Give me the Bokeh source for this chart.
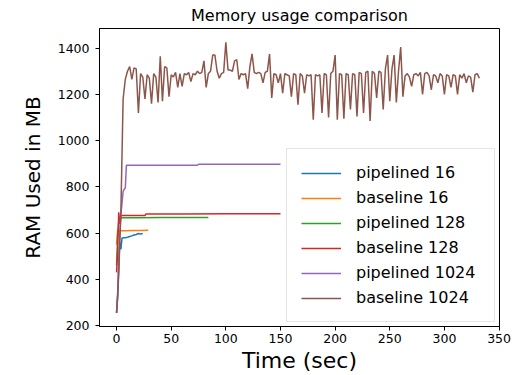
from bokeh.plotting import figure
from bokeh.models import Range1d, FixedTicker, Legend, LegendItem
from bokeh.embed import file_html
from bokeh.resources import INLINE

# ---- data ----
p16_t = [0, 1, 2, 3, 4, 5, 6, 8, 10, 12, 14, 16, 18, 20, 22, 24]
p16_v = [255, 320, 470, 560, 530, 578, 580, 580, 582, 585, 588, 592, 594, 598, 596, 598]

b16_t = [0, 1, 2, 4, 8, 15, 22, 29]
b16_v = [550, 615, 608, 610, 610, 611, 611, 612]

p128_t = [0, 1, 2, 3, 4, 5, 20, 40, 60, 84]
p128_v = [460, 590, 650, 645, 664, 666, 666, 667, 667, 667]

b128_t = [0, 1, 2, 3, 4, 5, 26, 27, 60, 100, 150]
b128_v = [430, 520, 690, 640, 674, 676, 676, 683, 683, 684, 684]

p1024_t = [0, 1, 2, 3, 4, 5, 6, 7, 8, 9, 30, 60, 74, 75, 100, 150]
p1024_v = [255, 330, 480, 600, 680, 730, 780, 790, 795, 893, 893, 894, 894, 898, 898, 898]

b1024_v = [
    255, 420, 700, 1180, 1265, 1300, 1320, 1265, 1315, 1310,
    1120, 1290, 1275, 1180, 1285, 1270, 1160, 1290, 1275, 1165,
    1365, 1170, 1320, 1315, 1190, 1285, 1275, 1295, 1230, 1290,
    1235, 1290, 1285, 1295, 1255, 1290, 1285, 1300, 1290, 1295,
    1345, 1230, 1290, 1300, 1370, 1370, 1300, 1270, 1290, 1295,
    1425, 1305, 1305, 1300, 1345, 1350, 1265, 1290, 1285, 1290,
    1225, 1320, 1375, 1295, 1290, 1295, 1290, 1250, 1295, 1300,
    1375, 1185, 1290, 1285, 1250, 1290, 1205, 1290, 1285, 1280,
    1190, 1290, 1285, 1155, 1290, 1280, 1205, 1285, 1280, 1285,
    1090, 1285, 1280, 1285, 1120, 1290, 1285, 1100, 1290, 1300,
    1370, 1090, 1290, 1285, 1095, 1290, 1285, 1135, 1290, 1285,
    1105, 1295, 1290, 1120, 1295, 1300, 1085, 1300, 1290, 1185,
    1300, 1295, 1135, 1310, 1370, 1170, 1310, 1370, 1165, 1300,
    1405, 1190, 1280, 1290, 1275, 1235, 1285, 1290, 1280, 1295,
    1200, 1290, 1295, 1280, 1220, 1285, 1280, 1250, 1290, 1280,
    1200, 1285, 1280, 1230, 1285, 1280, 1200, 1285, 1270, 1290,
    1250, 1280, 1275, 1210, 1285, 1290, 1270,
]
b1024_t = list(range(0, 2 * len(b1024_v), 2))

x_ticks = [0, 50, 100, 150, 200, 250, 300, 350]
y_ticks = [200, 400, 600, 800, 1000, 1200, 1400]

series = [
    ("pipelined 16", p16_t, p16_v, "#1f77b4"),
    ("baseline 16", b16_t, b16_v, "#ff7f0e"),
    ("pipelined 128", p128_t, p128_v, "#2ca02c"),
    ("baseline 128", b128_t, b128_v, "#d62728"),
    ("pipelined 1024", p1024_t, p1024_v, "#9467bd"),
    ("baseline 1024", b1024_t, b1024_v, "#8c564b"),
]

FONT = "DejaVu Sans"

p = figure(width=525, height=375, output_backend="svg", toolbar_location=None,
           x_range=Range1d(-15.6, 350.4), y_range=Range1d(196, 1485),
           min_border_left=99, min_border_right=26, min_border_top=25,
           min_border_bottom=49, title="Memory usage comparison")

p.title.text_font = FONT
p.title.text_font_size = "16px"
p.title.text_font_style = "normal"
p.title.align = "center"
p.title.standoff = 7
p.title.text_color = "black"

p.xgrid.visible = False
p.ygrid.visible = False
p.outline_line_color = "black"
p.outline_line_width = 1
p.background_fill_color = "white"
p.border_fill_color = "white"

for ax, ticks in ((p.xaxis[0], x_ticks), (p.yaxis[0], y_ticks)):
    ax.ticker = FixedTicker(ticks=ticks)
    ax.minor_tick_line_color = None
    ax.major_tick_out = 4
    ax.major_tick_in = 0
    ax.major_tick_line_color = "black"
    ax.axis_line_color = "black"
    ax.major_label_text_font = FONT
    ax.major_label_text_font_size = "12.5px"
    ax.major_label_text_color = "black"
    ax.axis_label_text_font = FONT
    ax.axis_label_text_font_style = "normal"
    ax.axis_label_text_color = "black"

p.xaxis.axis_label = "Time (sec)"
p.yaxis.axis_label = "RAM Used in MB"
p.xaxis.axis_label_text_font_size = "22px"
p.yaxis.axis_label_text_font_size = "20px"
p.xaxis.major_label_standoff = 3
p.yaxis.major_label_standoff = 6
p.xaxis.axis_label_standoff = 2
p.yaxis.axis_label_standoff = 10

items = []
for name, t, v, c in series:
    r = p.line(t, v, line_color=c, line_width=1.5)
    items.append(LegendItem(label=name, renderers=[r]))

legend = Legend(items=items, location="bottom_right",
                label_text_font=FONT, label_text_font_size="16px",
                label_text_color="black",
                glyph_width=40, glyph_height=18, label_height=18,
                label_width=124,
                spacing=6, padding=14, margin=4, label_standoff=15,
                border_line_color="#cccccc", border_line_width=1,
                background_fill_color="white", background_fill_alpha=0.8)
p.add_layout(legend)

open("out.html", "w").write(file_html(p, INLINE))
